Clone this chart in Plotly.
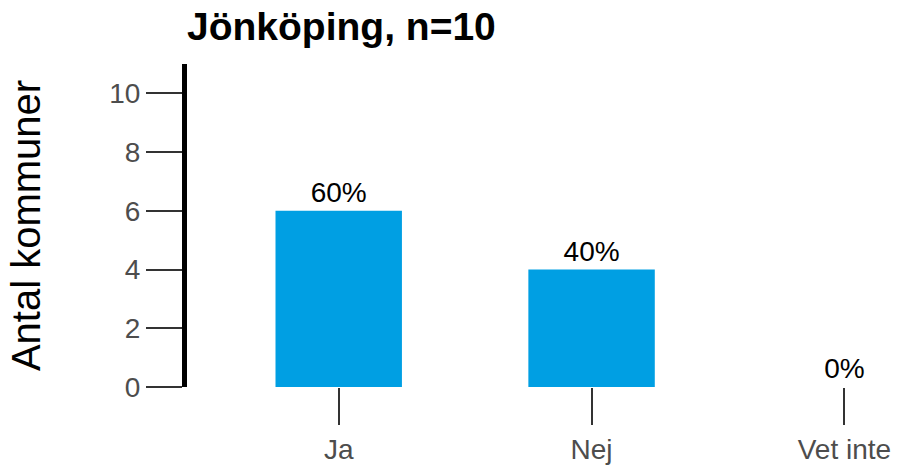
import plotly.graph_objects as go

# svarsalternativ och antal kommuner
kategorier = ["Ja", "Nej", "Vet inte"]
antal = [6, 4, 0]
andel = ["60%", "40%", "0%"]
y_ticks = [0, 2, 4, 6, 8, 10]

font_family = "Liberation Sans, Arial, sans-serif"

fig = go.Figure()

fig.add_trace(go.Bar(
    x=kategorier,
    y=antal,
    text=andel,
    textposition="outside",
    cliponaxis=False,
    textfont=dict(size=28, color="black", family=font_family),
    marker=dict(color="#009FE3", line=dict(width=0)),
    width=0.5,
    showlegend=False,
))

fig.update_layout(
    width=900,
    height=465,
    margin=dict(l=187, r=5, t=63.5, b=78, autoexpand=False),
    paper_bgcolor="white",
    plot_bgcolor="white",
    font=dict(family=font_family),
    title=dict(
        text="<b>Jönköping, n=10</b>",
        font=dict(size=39, color="black", family=font_family),
        xref="paper", x=0, xanchor="left",
        yref="container", y=0.944, yanchor="middle",
    ),
    xaxis=dict(
        range=[-0.6, 2.2],
        automargin=False,
        showline=False,
        showgrid=False,
        ticks="outside",
        ticklen=37,
        tickwidth=2,
        tickcolor="#333333",
        tickfont=dict(size=28, color="#4D4D4D"),
        zeroline=False,
    ),
    yaxis=dict(
        range=[0, 11],
        automargin=False,
        tickvals=y_ticks,
        showline=True,
        linecolor="black",
        linewidth=5,
        showgrid=False,
        zeroline=False,
        ticks="outside",
        ticklen=36,
        tickwidth=2,
        tickcolor="#333333",
        tickfont=dict(size=28, color="#4D4D4D"),
        title=dict(text="Antal kommuner", font=dict(size=40, color="black"),
                   standoff=58),
    ),
)

# sidans standardmarginal bort så att figuren fyller fönstret
fig.write_html("out.html", config={"displayModeBar": False},
               post_script="document.body.style.margin='0';")
